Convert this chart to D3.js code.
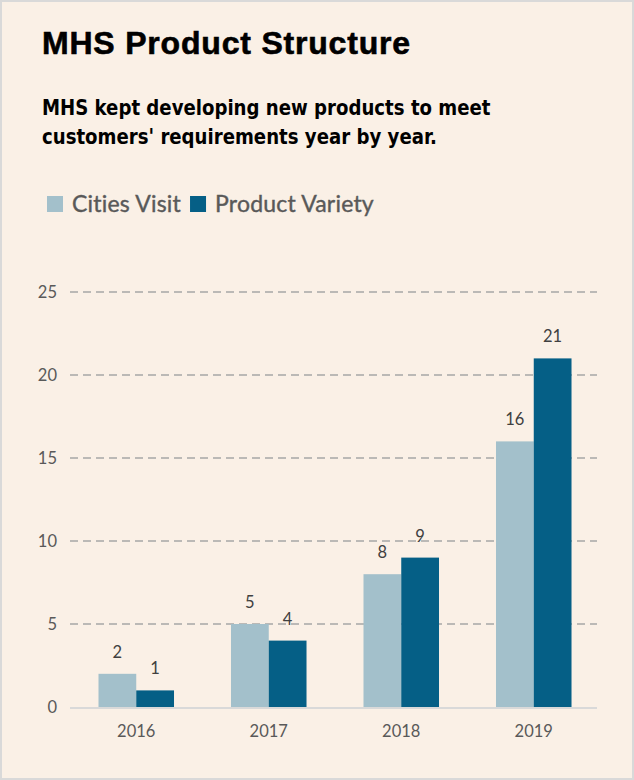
<!DOCTYPE html>
<meta charset="utf-8">
<script src="https://d3js.org/d3.v7.min.js"></script>
<style>
body { margin: 0; background: #fff; }
svg { display: block; }
</style>
<body>
</body>
<script>

// data
var years = ["2016", "2017", "2018", "2019"];
var series = ["Cities Visit", "Product Variety"];
var citiesVisit = [2, 5, 8, 16];
var productVariety = [1, 4, 9, 21];
var yTicks = [0, 5, 10, 15, 20, 25];

var colors = ["#a3c0cb", "#055f86"];

var width = 634, height = 780;

var svg = d3.select("body").append("svg")
    .attr("width", width)
    .attr("height", height);

// background + border
svg.append("rect")
    .attr("x", 1).attr("y", 1)
    .attr("width", width - 2).attr("height", height - 2)
    .attr("fill", "#faf0e6")
    .attr("stroke", "#d9d9d9")
    .attr("stroke-width", 2);

// title
svg.append("text")
    .attr("x", 42).attr("y", 54)
    .attr("font-family", "Liberation Sans, Arial, sans-serif")
    .attr("font-weight", "bold")
    .attr("font-size", 32)
    .attr("letter-spacing", 0.8)
    .attr("stroke", "#000")
    .attr("stroke-width", 0.6)
    .attr("fill", "#000")
    .text("MHS Product Structure");

// subtitle, squeezed a little to look condensed
var sub = svg.append("text")
    .attr("transform", "translate(42,0) scale(0.96,1)")
    .attr("font-family", "DejaVu Sans Condensed, DejaVu Sans, sans-serif")
    .attr("font-weight", "bold")
    .attr("font-size", 21)
    .attr("fill", "#000");
sub.append("tspan").attr("x", 0).attr("y", 115).text("MHS kept developing new products to meet");
sub.append("tspan").attr("x", 0).attr("y", 144).text("customers' requirements year by year.");

// legend
var legendFont = "Lato, Open Sans, sans-serif";
var lx = 47;
series.forEach(function(s, i) {
  svg.append("rect")
      .attr("x", lx).attr("y", 196)
      .attr("width", 16).attr("height", 16)
      .attr("fill", colors[i]);
  var t = svg.append("text")
      .attr("x", lx + 25).attr("y", 212)
      .attr("font-family", legendFont)
      .attr("font-size", 23)
      .attr("letter-spacing", 0.2)
      .attr("stroke", "#595959")
      .attr("stroke-width", 0.4)
      .attr("fill", "#595959")
      .text(s);
  lx = lx + 25 + t.node().getComputedTextLength() + 9;
});

// scales
var x0 = d3.scaleBand().domain(years).range([70, 600]).paddingInner(0.43).paddingOuter(0.215);
var x1 = d3.scaleBand().domain(series).range([0, x0.bandwidth()]);
var y = d3.scaleLinear().domain([0, 25]).range([707, 292]);

// gridlines
svg.append("g").selectAll("line")
    .data(yTicks.filter(function(d) { return d > 0; }))
    .enter().append("line")
    .attr("x1", 70).attr("x2", 597)
    .attr("y1", function(d) { return y(d); })
    .attr("y2", function(d) { return y(d); })
    .attr("stroke", "#a6a6a6")
    .attr("stroke-width", 1.5)
    .attr("stroke-dasharray", "8,5");

// y tick labels
svg.append("g").selectAll("text")
    .data(yTicks)
    .enter().append("text")
    .attr("x", 57)
    .attr("y", function(d) { return y(d) + 6; })
    .attr("text-anchor", "end")
    .attr("font-family", legendFont)
    .attr("font-size", 16.5)
    .attr("fill", "#595959")
    .text(function(d) { return d; });

// bars
var rows = years.map(function(yr, i) {
  return { year: yr, values: [
    { key: series[0], value: citiesVisit[i] },
    { key: series[1], value: productVariety[i] }
  ]};
});

var groups = svg.selectAll(".grp")
    .data(rows)
    .enter().append("g")
    .attr("class", "grp")
    .attr("transform", function(d) { return "translate(" + x0(d.year) + ",0)"; });

groups.selectAll("rect")
    .data(function(d) { return d.values; })
    .enter().append("rect")
    .attr("x", function(d) { return x1(d.key); })
    .attr("y", function(d) { return y(d.value); })
    .attr("width", x1.bandwidth())
    .attr("height", function(d) { return y(0) - y(d.value); })
    .attr("fill", function(d, i) { return colors[i]; });

groups.selectAll(".lbl")
    .data(function(d) { return d.values; })
    .enter().append("text")
    .attr("class", "lbl")
    .attr("x", function(d) { return x1(d.key) + x1.bandwidth() / 2; })
    .attr("y", function(d) { return y(d.value) - 16; })
    .attr("text-anchor", "middle")
    .attr("font-family", legendFont)
    .attr("font-size", 16.5)
    .attr("fill", "#404040")
    .text(function(d) { return d.value; });

// baseline
svg.append("line")
    .attr("x1", 70).attr("x2", 597)
    .attr("y1", y(0) + 1).attr("y2", y(0) + 1)
    .attr("stroke", "#d9d9d9")
    .attr("stroke-width", 2);

// x labels
svg.append("g").selectAll("text")
    .data(years)
    .enter().append("text")
    .attr("x", function(d) { return x0(d) + x0.bandwidth() / 2; })
    .attr("y", 737)
    .attr("text-anchor", "middle")
    .attr("font-family", legendFont)
    .attr("font-size", 16.5)
    .attr("fill", "#595959")
    .text(function(d) { return d; });

</script>
